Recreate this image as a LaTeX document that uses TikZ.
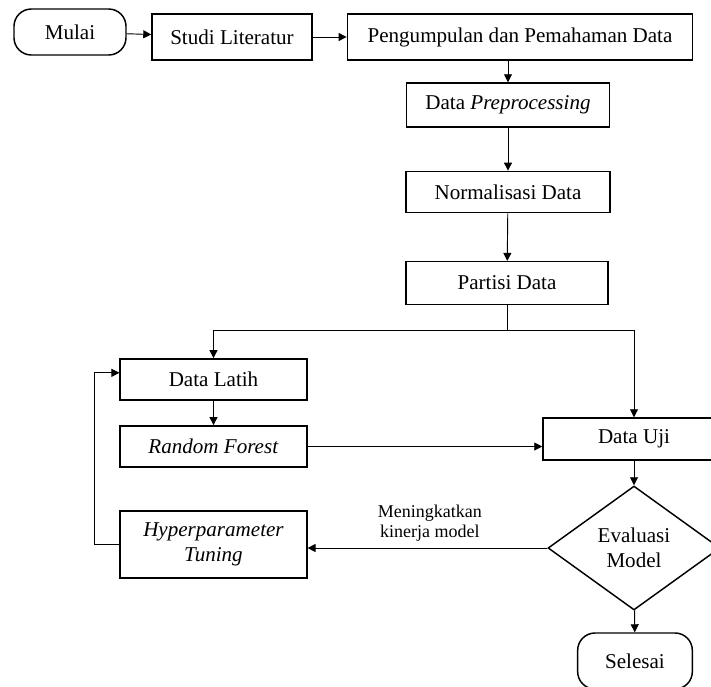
\documentclass[tikz,border=0pt]{standalone}
\usepackage{fontspec}
\setmainfont{Liberation Serif}
\usetikzlibrary{arrows.meta,positioning,shapes.geometric}
\tikzset{
  box/.style ={rectangle,draw,line width=1.1pt,inner sep=2pt,align=center},
  term/.style={rectangle,draw,line width=1.1pt,rounded corners=13pt,inner sep=2pt},
  dec/.style ={diamond,draw,line width=1.1pt,inner sep=0pt,align=center,
               minimum width=129pt,minimum height=93pt},
  ar/.style  ={-{Triangle[length=6pt,width=6pt]},line width=0.7pt},
  ln/.style  ={line width=0.7pt},
  lbl/.style ={font=\fontsize{13.5}{14.5}\selectfont,align=center,inner sep=3pt},
}

\begin{document}
\begin{tikzpicture}[x=0.75pt,y=-0.75pt,font=\fontsize{15.8}{18.5}\selectfont]
  \useasboundingbox (0,0) rectangle (711,686);
  % top row
  \node[term,minimum width=84pt,minimum height=34.5pt] (mulai) at (70,32) {Mulai};
  \node[box,minimum width=120pt,minimum height=34.5pt] (studi) at (232,37) {Studi Literatur};
  \node[box,minimum width=259pt,minimum height=34.5pt] (kumpul) at (520,37) {Pengumpulan dan Pemahaman Data};
  % middle column
  \node[box,minimum width=152pt,minimum height=33pt] (prep) at (508,105) {Data \textit{Preprocessing}};
  \node[box,minimum width=153pt,minimum height=31pt] (norm) at (508,192) {Normalisasi Data};
  \node[box,minimum width=151.5pt,minimum height=32pt] (partisi) at (507,283) {Partisi Data};
  \coordinate (cabang) at (507,330);
  % left column
  \node[box,minimum width=140pt,minimum height=31pt] (latih) at (213.5,379.5) {Data Latih};
  \node[box,minimum width=140pt,minimum height=31pt] (rf) at (213.5,446.5) {\textit{Random Forest}};
  \node[box,minimum width=140pt,minimum height=50pt] (tuning) at (213.5,544.5) {\textit{Hyperparameter}\\ \textit{Tuning}};
  % right column
  \node[box,minimum width=136.5pt,minimum height=31.5pt] (uji) at (634,439) {Data Uji};
  \node[dec] (eval) at (634,548) {Evaluasi\\ Model};
  \node[term,minimum width=86pt,minimum height=42pt] (selesai) at (635,661) {Selesai};

  \draw[ar](mulai)--(studi); \draw[ar](studi)--(kumpul);
  \draw[ar](kumpul.south -| prep.north)--(prep.north);
  \draw[ar](prep)--(norm); \draw[ar](norm)--(partisi);
  \draw[ln](partisi)--(cabang);
  \draw[ar](cabang)-|(latih.north); \draw[ar](cabang)-|(uji.north);
  \draw[ar](latih)--(rf);
  \draw[ar](rf.east)--(rf.east -| uji.west);
  \draw[ar](uji)--(eval); \draw[ar](eval)--(selesai);
  \draw[ar](eval.west)--node[lbl,above,pos=0.49,yshift=2pt] (naik) {Meningkatkan\\ kinerja model}(eval.west -| tuning.east);
  \draw[ar](tuning.west)--++(-25,0)|-([yshift=5pt]latih.west);
\end{tikzpicture}
\end{document}
